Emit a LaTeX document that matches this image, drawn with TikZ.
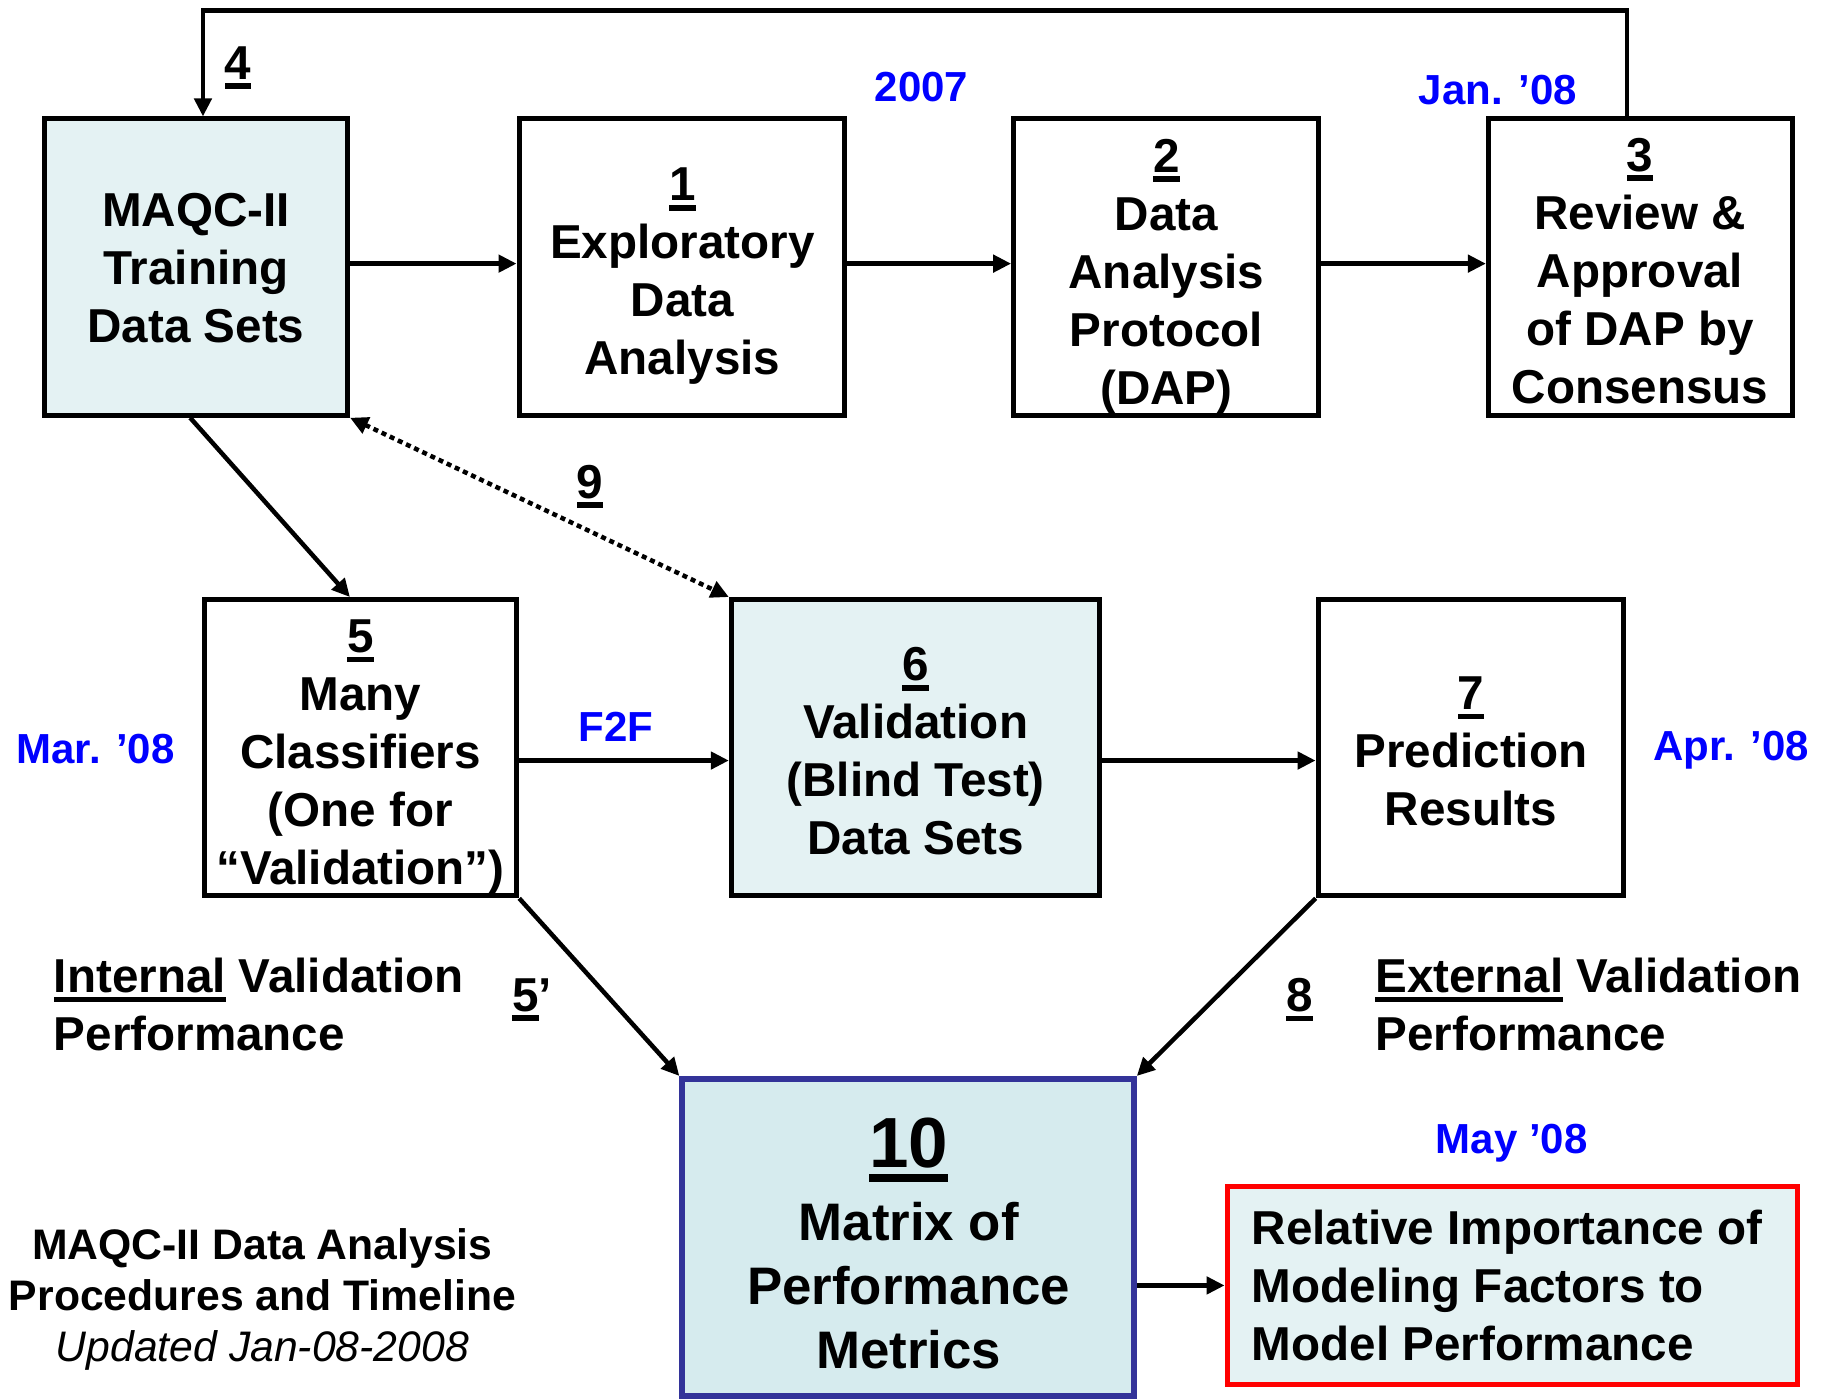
\documentclass[tikz,border=0pt]{standalone}
\usepackage{fontspec}
\setmainfont{Liberation Sans}
\usetikzlibrary{arrows.meta,fit}
\definecolor{cyanL}{HTML}{E4F2F3}
\definecolor{cyanD}{HTML}{D6EBEE}
\definecolor{navy}{HTML}{333399}
\definecolor{lblue}{HTML}{0000FF}
\definecolor{lred}{HTML}{FF0000}
\newcommand\myul[1]{\setbox0=\hbox{#1}\rlap{\rule[-0.21em]{\wd0}{0.12em}}\box0\relax}
\newcommand\mainsz{\fontsize{47.6pt}{58pt}\selectfont}
\newcommand\bluesz{\fontsize{42pt}{50pt}\selectfont}
\newcommand\tensz{\fontsize{71pt}{80pt}\selectfont}
\newcommand\bigsz{\fontsize{52.8pt}{64pt}\selectfont}
\newcommand\titlesz{\fontsize{42.7pt}{51.3pt}\selectfont}
\tikzset{
  boxnode/.style={draw=black, line width=5pt, inner sep=0pt},
  txt/.style={font=\mainsz\bfseries, align=center, inner sep=0pt},
  bluetxt/.style={font=\bluesz\bfseries, text=lblue, inner sep=0pt},
  arr/.style={line width=4.5pt, -{Triangle[length=18pt,width=17pt]}},
  dotarr/.style={line width=4.5pt, dash pattern=on 5pt off 4pt, {Triangle[length=18pt,width=17pt]}-{Triangle[length=18pt,width=17pt]}}
}
\begin{document}
\begin{tikzpicture}[x=1.1665pt,y=-1.1665pt]
\useasboundingbox (0,0) rectangle (1568,1199);
% boxes
\node[boxnode, fill=cyanL, fit={(38,102)(298,356)}] (b0) {};
\node[boxnode, fit={(445,102)(724,356)}] (b1) {};
\node[boxnode, fit={(869,102)(1130,356)}] (b2) {};
\node[boxnode, fit={(1276,102)(1537,356)}] (b3) {};
\node[boxnode, fit={(175,514)(443,768)}] (b5) {};
\node[boxnode, fill=cyanL, fit={(627,514)(943,768)}] (b6) {};
\node[boxnode, fit={(1130,514)(1392,768)}] (b7) {};
\node[boxnode, draw=navy, line width=6pt, fill=cyanD, fit={(585,925)(972,1197)}] (b10) {};
\node[boxnode, draw=lred, fill=cyanL, fit={(1052,1017)(1541,1187)}] (b11) {};
% box texts
\node[txt] (t0) at (168,230) {MAQC-II\\Training\\Data Sets};
\node[txt] (t1) at (585,237) {\myul{1}\\Exploratory\\Data\\Analysis};
\node[txt] (t2) at (1000,237) {\myul{2}\\Data\\Analysis\\Protocol\\(DAP)};
\node[txt] (t3) at (1406,232) {\myul{3}\\Review \&\\Approval\\of DAP by\\Consensus};
\node[txt] (t5) at (309,649) {\myul{5}\\Many\\Classifiers\\(One for\\“Validation”)};
\node[txt] (t6) at (785,644) {\myul{6}\\Validation\\(Blind Test)\\Data Sets};
\node[txt] (t7) at (1261,644) {\myul{7}\\Prediction\\Results};
\node[txt, font=\tensz\bfseries] (t10a) at (779,986) {\myul{10}};
\node[txt, font=\bigsz\bfseries] (t10b) at (779,1102) {Matrix of\\Performance\\Metrics};
\node[txt, align=left, anchor=west] (t11) at (1073,1102) {Relative Importance of\\Modeling Factors to\\Model Performance};
% labels
\node[txt] (l4) at (204,58) {\myul{4}};
\node[txt] (l9) at (506,417) {\myul{9}};
\node[txt] (l5p) at (456,857) {\myul{5}’};
\node[txt] (l8) at (1114,857) {\myul{8}};
\node[txt, align=left, anchor=west] (lint) at (46,861) {\myul{Internal} Validation\\Performance};
\node[txt, align=left, anchor=west] (lext) at (1179,861) {\myul{External} Validation\\Performance};
\node[txt, font=\titlesz\bfseries] (ttl) at (225,1114) {MAQC-II Data Analysis\\Procedures and Timeline\\{\mdseries\itshape Updated Jan-08-2008}};
\node[bluetxt] (d2007) at (790,75) {2007};
\node[bluetxt] (djan) at (1284,77) {Jan. ’08};
\node[bluetxt] (f2f) at (528,623) {F2F};
\node[bluetxt] (dmar) at (82,642) {Mar. ’08};
\node[bluetxt] (dapr) at (1484,643) {Apr. ’08};
\node[bluetxt] (dmay) at (1296,980) {May ’08};
% connectors
\coordinate (tl) at (174,9);
\coordinate (tr) at (1395,9);
\coordinate (rowtop) at (0,226);
\coordinate (row) at (0,652);
\draw[arr, line join=miter] (b3.north -| tr) -- (tr) -- (tl) -- (b0.north -| tl);
\draw[arr] (b0.east |- rowtop) -- (b1.west |- rowtop);
\draw[arr] (b1.east |- rowtop) -- (b2.west |- rowtop);
\draw[arr] (b2.east |- rowtop) -- (b3.west |- rowtop);
\draw[arr] (b5.east |- row) -- (b6.west |- row);
\draw[arr] (b6.east |- row) -- (b7.west |- row);
\draw[arr] ([xshift=-5.8pt]b0.south) -- ([xshift=-10.5pt]b5.north);
\draw[dotarr] (b0.south east) -- (b6.north west);
\draw[arr] (b5.south east) -- (b10.north west);
\draw[arr] (b7.south west) -- (b10.north east);
\draw[arr] (b10.east |- b11.west) -- (b11.west);
\end{tikzpicture}
\end{document}
